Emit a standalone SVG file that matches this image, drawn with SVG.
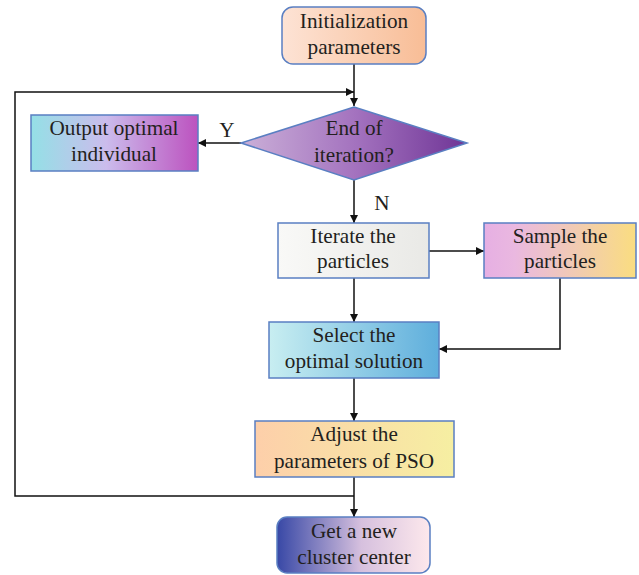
<svg xmlns="http://www.w3.org/2000/svg" width="639" height="575" viewBox="0 0 639 575">
  <style>
    .box { stroke: #5a7fc2; stroke-width: 1.5; }
    .lbl { font-family: "Liberation Serif", "Times New Roman", serif; font-size: 21.2px; fill: #231f20; text-anchor: middle; }
    .wire { fill: none; stroke: #111; stroke-width: 1.5; }
  </style>
  <defs>
    <marker id="arrow" viewBox="0 0 10 10" refX="10" refY="5" markerWidth="8" markerHeight="8" markerUnits="userSpaceOnUse" orient="auto">
      <path d="M0,0 L10,5 L0,10 z" fill="#111"/>
    </marker>
    <linearGradient id="gInit" x1="0" x2="1" y1="0" y2="0">
      <stop offset="0" stop-color="#fde3d5"/>
      <stop offset="1" stop-color="#f8bd96"/>
    </linearGradient>
    <linearGradient id="gDiamond" x1="0" x2="1" y1="0" y2="0">
      <stop offset="0" stop-color="#cbb0d8"/>
      <stop offset="0.5" stop-color="#a473bf"/>
      <stop offset="1" stop-color="#6f3596"/>
    </linearGradient>
    <linearGradient id="gOutput" x1="0" x2="1" y1="0" y2="0">
      <stop offset="0" stop-color="#94e0e6"/>
      <stop offset="0.45" stop-color="#cbbcec"/>
      <stop offset="1" stop-color="#bc52bf"/>
    </linearGradient>
    <linearGradient id="gIterate" x1="0" x2="1" y1="0" y2="0">
      <stop offset="0" stop-color="#f9f9f7"/>
      <stop offset="1" stop-color="#e9e9e6"/>
    </linearGradient>
    <linearGradient id="gSample" x1="0" x2="1" y1="0" y2="0">
      <stop offset="0" stop-color="#e6afe3"/>
      <stop offset="0.2" stop-color="#eab8e0"/>
      <stop offset="0.5" stop-color="#efc6bf"/>
      <stop offset="1" stop-color="#fadd80"/>
    </linearGradient>
    <linearGradient id="gSelect" x1="0" x2="1" y1="0" y2="0">
      <stop offset="0" stop-color="#c8eef1"/>
      <stop offset="1" stop-color="#5eaedc"/>
    </linearGradient>
    <linearGradient id="gAdjust" x1="0" x2="1" y1="0" y2="0">
      <stop offset="0" stop-color="#fdcfaa"/>
      <stop offset="1" stop-color="#f6efa2"/>
    </linearGradient>
    <linearGradient id="gNew" x1="0" x2="1" y1="0" y2="0">
      <stop offset="0" stop-color="#3848a6"/>
      <stop offset="0.55" stop-color="#d6c0de"/>
      <stop offset="1" stop-color="#fde8ec"/>
    </linearGradient>
  </defs>

  <rect width="639" height="575" fill="#ffffff"/>

  <!-- connectors -->
  <g id="connectors">
    <path class="wire" d="M354,64 V106" marker-end="url(#arrow)"/>
    <path class="wire" d="M354,496 H15 V92 H354" marker-end="url(#arrow)"/>
    <path class="wire" d="M241,143 H198" marker-end="url(#arrow)"/>
    <path class="wire" d="M354,180 V223" marker-end="url(#arrow)"/>
    <path class="wire" d="M429,251 H484" marker-end="url(#arrow)"/>
    <path class="wire" d="M354,278 V322" marker-end="url(#arrow)"/>
    <path class="wire" d="M560,278 V349 H439" marker-end="url(#arrow)"/>
    <path class="wire" d="M354,378 V421" marker-end="url(#arrow)"/>
    <path class="wire" d="M354,477 V517" marker-end="url(#arrow)"/>
    <text class="lbl" x="227" y="137">Y</text>
    <text class="lbl" x="382" y="210">N</text>
  </g>

  <g id="init">
    <rect class="box" x="282" y="7" width="144" height="57" rx="11" fill="url(#gInit)"/>
    <text class="lbl" x="354" y="28">Initialization</text>
    <text class="lbl" x="354" y="54">parameters</text>
  </g>

  <g id="end-check">
    <polygon class="box" points="354,107 467,143 354,180 241,143" fill="url(#gDiamond)"/>
    <text class="lbl" x="354" y="135">End of</text>
    <text class="lbl" x="354" y="162">iteration?</text>
  </g>

  <g id="output">
    <rect class="box" x="31" y="115" width="167" height="56" fill="url(#gOutput)"/>
    <text class="lbl" x="114" y="135">Output optimal</text>
    <text class="lbl" x="114" y="161">individual</text>
  </g>

  <g id="iterate">
    <rect class="box" x="278" y="223" width="151" height="55" fill="url(#gIterate)"/>
    <text class="lbl" x="353" y="243">Iterate the</text>
    <text class="lbl" x="353" y="268">particles</text>
  </g>

  <g id="sample">
    <rect class="box" x="484" y="223" width="152" height="55" fill="url(#gSample)"/>
    <text class="lbl" x="560" y="243">Sample the</text>
    <text class="lbl" x="560" y="268">particles</text>
  </g>

  <g id="select">
    <rect class="box" x="269" y="322" width="170" height="56" fill="url(#gSelect)"/>
    <text class="lbl" x="354" y="342">Select the</text>
    <text class="lbl" x="354" y="368">optimal solution</text>
  </g>

  <g id="adjust">
    <rect class="box" x="255" y="421" width="199" height="56" fill="url(#gAdjust)"/>
    <text class="lbl" x="354" y="441">Adjust the</text>
    <text class="lbl" x="354" y="468">parameters of PSO</text>
  </g>

  <g id="new-center">
    <rect class="box" x="277" y="517" width="153" height="56" rx="10" fill="url(#gNew)"/>
    <text class="lbl" x="354" y="538">Get a new</text>
    <text class="lbl" x="354" y="564">cluster center</text>
  </g>
</svg>
